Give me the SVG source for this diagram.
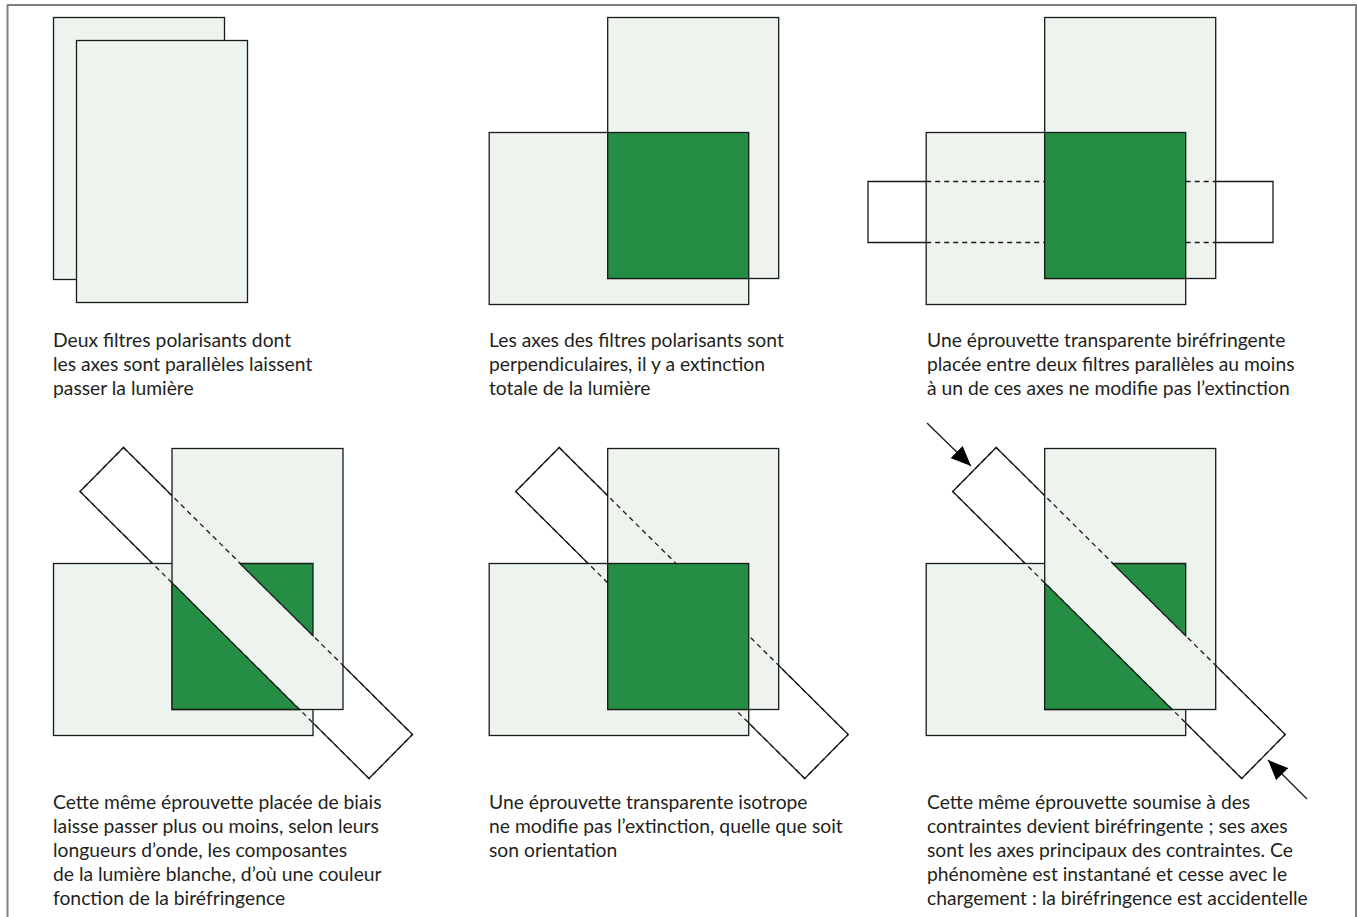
<svg xmlns="http://www.w3.org/2000/svg" width="1357" height="917" viewBox="0 0 1357 917">
<style>
.filter{fill:#edf4ee;stroke:#1a1a1a;stroke-width:1.3}
.green{fill:#238e44;stroke:#1a1a1a;stroke-width:1.3}
.spec{fill:#ffffff;stroke:#1a1a1a;stroke-width:1.3}
.solid{fill:none;stroke:#1a1a1a;stroke-width:1.3}
.dash{fill:none;stroke:#1a1a1a;stroke-width:1.3;stroke-dasharray:5 4}
.lbl{font-family:Lato,"Open Sans","Liberation Sans",sans-serif;font-size:19.3px;fill:#231f20}
.arrow{stroke:#1a1a1a;stroke-width:1.3;fill:none}
</style>
<defs>
<marker id="ah" markerUnits="userSpaceOnUse" markerWidth="20" markerHeight="17" viewBox="0 0 20 17" refX="20" refY="8.5" orient="auto">
<path d="M0,0 L20,8.5 L0,17 z" fill="#000"/>
</marker>
<polygon id="specShape" points="123.5,447.5 412.5,734.5 369,778.5 80,491.5"/>
</defs>
<rect width="1357" height="917" fill="#fff"/>
<g id="frame">
<line x1="7" y1="5" x2="1357" y2="5" stroke="#000" stroke-width="1.2"/>
<line x1="7.5" y1="5" x2="7.5" y2="917" stroke="#808080" stroke-width="2"/>
<line x1="1356" y1="5" x2="1356" y2="917" stroke="#808080" stroke-width="2"/>
</g>

<g id="panel1">
<rect class="filter" x="53.5" y="17.5" width="171" height="262"/>
<rect class="filter" x="76.5" y="40.5" width="171" height="262"/>
<text class="lbl" x="53" y="347"><tspan x="53">Deux filtres polarisants dont</tspan><tspan x="53" dy="24">les axes sont parallèles laissent</tspan><tspan x="53" dy="24">passer la lumière</tspan></text>
</g>

<g id="panel2">
<g transform="translate(435.7,-431)">
<rect class="filter" x="53.5" y="563.5" width="259.5" height="172"/>
<rect class="filter" x="172" y="448.5" width="171" height="261"/>
<rect class="green" x="172" y="563.5" width="141" height="146"/>
</g>
<text class="lbl" x="489" y="347"><tspan x="489">Les axes des filtres polarisants sont</tspan><tspan x="489" dy="24">perpendiculaires, il y a extinction</tspan><tspan x="489" dy="24">totale de la lumière</tspan></text>
</g>

<g id="panel3">
<g transform="translate(872.7,-431)">
<polyline class="solid" points="53.5,612.5 -4.7,612.5 -4.7,673.5 53.5,673.5"/>
<polyline class="solid" points="343,612.5 400.3,612.5 400.3,673.5 343,673.5"/>
<rect class="filter" x="53.5" y="563.5" width="259.5" height="172"/>
<rect class="filter" x="172" y="448.5" width="171" height="261"/>
<line class="dash" x1="53.5" y1="612.5" x2="172" y2="612.5"/>
<line class="dash" x1="53.5" y1="673.5" x2="172" y2="673.5"/>
<line class="dash" x1="313" y1="612.5" x2="343" y2="612.5"/>
<line class="dash" x1="313" y1="673.5" x2="343" y2="673.5"/>
<rect class="green" x="172" y="563.5" width="141" height="146"/>
</g>
<text class="lbl" x="927" y="347"><tspan x="927">Une éprouvette transparente biréfringente</tspan><tspan x="927" dy="24">placée entre deux filtres parallèles au moins</tspan><tspan x="927" dy="24">à un de ces axes ne modifie pas l’extinction</tspan></text>
</g>

<g id="panel4">
<use href="#specShape" class="spec"/>
<rect class="filter" x="53.5" y="563.5" width="259.5" height="172"/>
<rect class="filter" x="172" y="448.5" width="171" height="261"/>
<use href="#specShape" class="dash"/>
<polygon class="green" points="239.9,563.5 313,563.5 313,635.7"/>
<polygon class="green" points="172,582.9 172,709.5 299.5,709.5"/>
<text class="lbl" x="53" y="809"><tspan x="53">Cette même éprouvette placée de biais</tspan><tspan x="53" dy="24">laisse passer plus ou moins, selon leurs</tspan><tspan x="53" dy="24">longueurs d’onde, les composantes</tspan><tspan x="53" dy="24">de la lumière blanche, d’où une couleur</tspan><tspan x="53" dy="24">fonction de la biréfringence</tspan></text>
</g>

<g id="panel5">
<g transform="translate(435.7,0)">
<use href="#specShape" class="spec"/>
<rect class="filter" x="53.5" y="563.5" width="259.5" height="172"/>
<rect class="filter" x="172" y="448.5" width="171" height="261"/>
<use href="#specShape" class="dash"/>
<rect class="green" x="172" y="563.5" width="141" height="146"/>
</g>
<text class="lbl" x="489" y="809"><tspan x="489">Une éprouvette transparente isotrope</tspan><tspan x="489" dy="24">ne modifie pas l’extinction, quelle que soit</tspan><tspan x="489" dy="24">son orientation</tspan></text>
</g>

<g id="panel6">
<g transform="translate(872.7,0)">
<use href="#specShape" class="spec"/>
<rect class="filter" x="53.5" y="563.5" width="259.5" height="172"/>
<rect class="filter" x="172" y="448.5" width="171" height="261"/>
<use href="#specShape" class="dash"/>
<polygon class="green" points="239.9,563.5 313,563.5 313,635.7"/>
<polygon class="green" points="172,582.9 172,709.5 299.5,709.5"/>
</g>
<text class="lbl" x="927" y="809"><tspan x="927">Cette même éprouvette soumise à des</tspan><tspan x="927" dy="24">contraintes devient biréfringente ; ses axes</tspan><tspan x="927" dy="24">sont les axes principaux des contraintes. Ce</tspan><tspan x="927" dy="24">phénomène est instantané et cesse avec le</tspan><tspan x="927" dy="24">chargement : la biréfringence est accidentelle</tspan></text>
</g>

<g id="connectors">
<line class="arrow" x1="927" y1="423" x2="971" y2="466" marker-end="url(#ah)"/>
<line class="arrow" x1="1307" y1="799" x2="1268" y2="760" marker-end="url(#ah)"/>
</g>
</svg>
